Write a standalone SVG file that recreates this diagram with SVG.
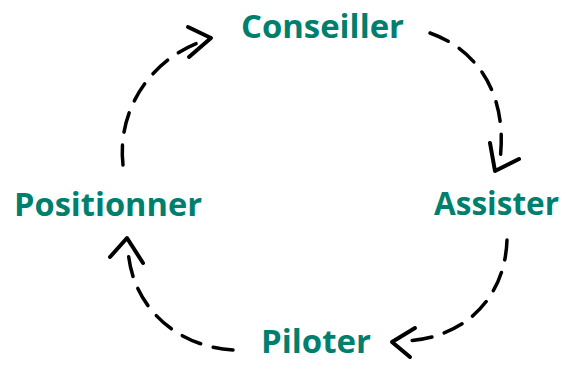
<svg xmlns="http://www.w3.org/2000/svg" width="573" height="371" viewBox="0 0 573 371">
<style>
.lbl{font-family:"Open Sans","Liberation Sans",sans-serif;font-weight:700;font-size:32px;fill:#007F6E}
.dash{fill:none;stroke:#000;stroke-width:3.5;stroke-linecap:round;stroke-dasharray:20 13}
.head{fill:none;stroke:#000;stroke-width:4;stroke-linecap:round;stroke-linejoin:round}
</style>
<rect width="573" height="371" fill="#fff"/>
<g id="connectors">
<g id="c1">
<path class="dash" d="M123,165 C117,112 148,62 200,42"/>
<polyline class="head" points="188,27 211,38 189,57"/>
</g>
<g id="c2">
<path class="dash" d="M430,33 C478,50 508,95 500,160"/>
<polyline class="head" points="490,143 495,171 519,159"/>
</g>
<g id="c3">
<path class="dash" d="M507,240 C505,300 462,340 402,341"/>
<polyline class="head" points="415,328 392,342 410,357"/>
</g>
<g id="c4">
<path class="dash" d="M233,350 C170,346 130,300 128,248"/>
<polyline class="head" points="110,257 127,238 143,263"/>
</g>
</g>
<g id="conseiller"><text class="lbl" x="241" y="38" textLength="163" lengthAdjust="spacingAndGlyphs">Conseiller</text></g>
<g id="assister"><text class="lbl" x="434" y="215" textLength="125" lengthAdjust="spacingAndGlyphs">Assister</text></g>
<g id="piloter"><text class="lbl" x="261" y="353" textLength="110" lengthAdjust="spacingAndGlyphs">Piloter</text></g>
<g id="positionner"><text class="lbl" x="14" y="216" textLength="188" lengthAdjust="spacingAndGlyphs">Positionner</text></g>
</svg>
